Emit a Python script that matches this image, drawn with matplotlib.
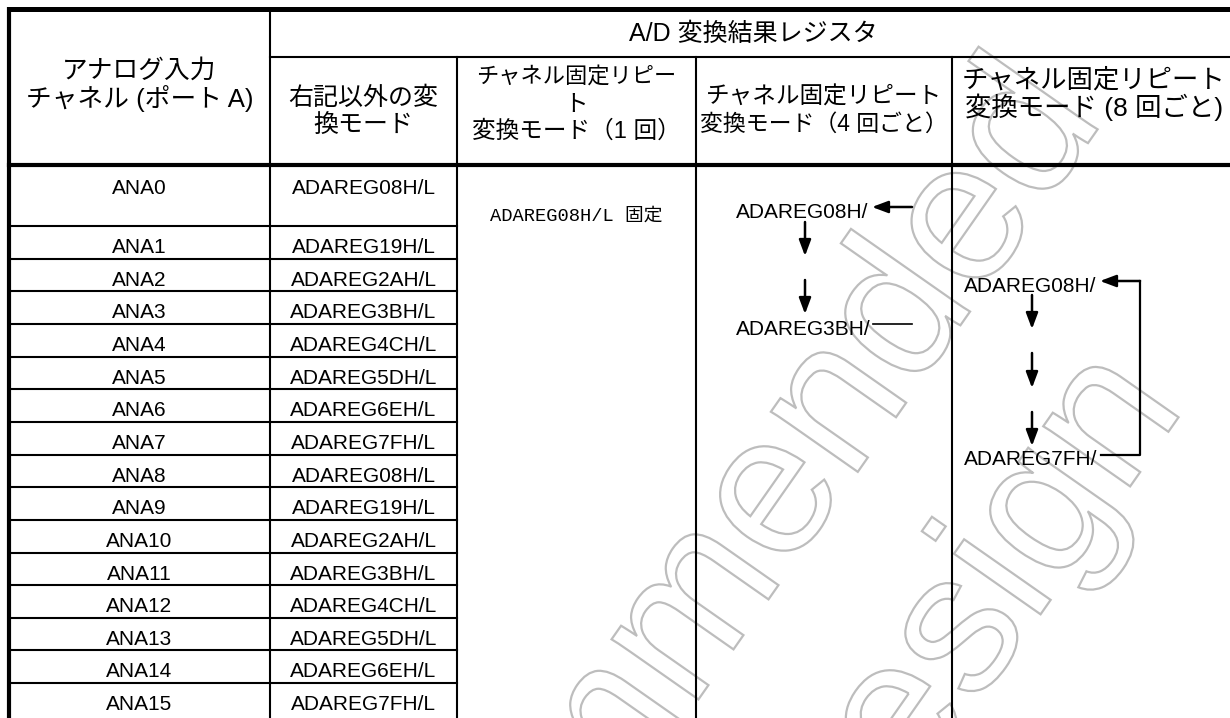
import matplotlib
matplotlib.use("Agg")
import matplotlib.pyplot as plt
from matplotlib.patches import PathPatch, FancyArrowPatch
from matplotlib.textpath import TextPath
from matplotlib.font_manager import FontProperties
from matplotlib.transforms import Affine2D

# ---------------- data ----------------
channels = ["ANA0", "ANA1", "ANA2", "ANA3", "ANA4", "ANA5", "ANA6", "ANA7",
            "ANA8", "ANA9", "ANA10", "ANA11", "ANA12", "ANA13", "ANA14", "ANA15"]
registers = ["ADAREG08H/L", "ADAREG19H/L", "ADAREG2AH/L", "ADAREG3BH/L",
             "ADAREG4CH/L", "ADAREG5DH/L", "ADAREG6EH/L", "ADAREG7FH/L",
             "ADAREG08H/L", "ADAREG19H/L", "ADAREG2AH/L", "ADAREG3BH/L",
             "ADAREG4CH/L", "ADAREG5DH/L", "ADAREG6EH/L", "ADAREG7FH/L"]
group_header = "A/D 変換結果レジスタ"
col_headers = [
    ["アナログ入力", "チャネル (ポート A)"],
    ["右記以外の変", "換モード"],
    ["チャネル固定リピー", "ト", "変換モード（1 回）"],
    ["チャネル固定リピート", "変換モード（4 回ごと）"],
    ["チャネル固定リピート", "変換モード (8 回ごと)"],
]
fixed_text = "ADAREG08H/L 固定"
seq4 = ["ADAREG08H/", "ADAREG3BH/"]
seq8 = ["ADAREG08H/", "ADAREG7FH/"]
watermark_lines = ["Not Recommended", "for New Design"]

# ---------------- layout ----------------
W, H = 1230, 718
fig = plt.figure(figsize=(W / 100, H / 100), dpi=100)
ax = fig.add_axes([0, 0, 1, 1])
ax.set_xlim(0, W)
ax.set_ylim(H, 0)
ax.axis("off")

col_x = [8.5, 270, 457, 696, 952, 1236]
top_y, group_y, head_y = 9, 57, 165
row0_bot, pitch = 226, 32.65

HEAD = ["Liberation Sans", "Noto Sans CJK JP", "DejaVu Sans"]
LAT = ["Liberation Sans", "DejaVu Sans"]
thin, thick = 1.5, 3.0

# watermark (outlined text)
fp_wm = FontProperties(family="Liberation Sans")
wm_size = 200
angle = 55
wm_anchor = [(10, (769, 508)), (10, (957, 643))]
for line, (k, (X, Y)) in zip(watermark_lines, wm_anchor):
    tp = TextPath((0, 0), line, size=wm_size, prop=fp_wm)
    x_prev = TextPath((0, 0), line[:k], size=wm_size, prop=fp_wm).get_extents().x1
    x_cur = TextPath((0, 0), line[:k + 1], size=wm_size, prop=fp_wm).get_extents().x1
    cx, cy = (x_prev + x_cur) / 2, 0.26 * wm_size
    tr = Affine2D().translate(-cx, -cy).scale(1, -1).rotate_deg(-angle).translate(X, Y)
    ax.add_patch(PathPatch(tr.transform_path(tp), facecolor="none",
                           edgecolor="#bdbdbd", lw=1.6, zorder=0.5))

# table rules
ax.plot([col_x[0], col_x[-1]], [top_y, top_y], color="k", lw=3.6, solid_capstyle="butt", zorder=3)
ax.plot([col_x[0], col_x[0]], [top_y - 2, H + 5], color="k", lw=thick, solid_capstyle="butt", zorder=3)
ax.plot([col_x[0], col_x[-1]], [head_y, head_y], color="k", lw=thick, zorder=3)
ax.plot([col_x[1], col_x[-1]], [group_y, group_y], color="k", lw=thin, zorder=3)
ax.plot([col_x[1], col_x[1]], [top_y, H + 5], color="k", lw=thin, zorder=3)
for xc in col_x[2:5]:
    ax.plot([xc, xc], [group_y, H + 5], color="k", lw=thin, zorder=3)
row_tops = [head_y] + [row0_bot + i * pitch for i in range(len(channels) - 1)]
for yt in row_tops[1:]:
    ax.plot([col_x[0], col_x[2]], [yt, yt], color="k", lw=thin, zorder=3)

# headers
ax.text((col_x[1] + col_x[-1]) / 2, 34, group_header, family=HEAD, fontsize=18,
        ha="center", va="center")
head_line_y = [[71, 98], [98, 125], [77, 104, 132], [97, 124], [80, 107]]
head_sizes = [[18.5, 18.5], [18, 18], [16, 17, 17], [17, 16.5], [19, 19]]
for c, (lines, ys, fs) in enumerate(zip(col_headers, head_line_y, head_sizes)):
    xc = (col_x[c] + col_x[c + 1]) / 2
    for s, y, f in zip(lines, ys, fs):
        ax.text(xc, y, s, family=HEAD, fontsize=f, ha="center", va="center")

# body
for i, (ch, reg) in enumerate(zip(channels, registers)):
    base = row_tops[i] + (29 if i == 0 else 27)
    ax.text((col_x[0] + col_x[1]) / 2, base, ch, family=LAT, fontsize=15,
            ha="center", va="baseline")
    ax.text((col_x[1] + col_x[2]) / 2, base, reg, family=LAT, fontsize=15,
            ha="center", va="baseline")

ax.text((col_x[2] + col_x[3]) / 2, 216, fixed_text,
        family=["Liberation Mono", "Noto Sans CJK JP"], fontsize=13.5,
        ha="center", va="center")


def arrow(p0, p1):
    ax.add_patch(FancyArrowPatch(p0, p1, arrowstyle="-|>,head_length=0.8,head_width=0.3",
                                 mutation_scale=12, lw=1.8, color="k",
                                 shrinkA=0, shrinkB=0, zorder=4))


# 4-times column
ax.text(736, 218, seq4[0], family=LAT, fontsize=15, ha="left", va="baseline")
ax.text(736, 335, seq4[1], family=LAT, fontsize=15, ha="left", va="baseline")
arrow((912, 207), (872, 207))
arrow((805, 222), (805, 256))
arrow((805, 280), (805, 314))
ax.plot([873, 912], [324, 324], color="k", lw=1.2)

# 8-times column
ax.text(964, 292, seq8[0], family=LAT, fontsize=15, ha="left", va="baseline")
ax.text(964, 465, seq8[1], family=LAT, fontsize=15, ha="left", va="baseline")
ax.plot([1101, 1140, 1140], [455, 455, 281], color="k", lw=1.6)
arrow((1140, 281), (1100, 281))
arrow((1032, 295), (1032, 329))
arrow((1032, 353), (1032, 388))
arrow((1032, 412), (1032, 446))

fig.savefig("out.png", dpi=100)
